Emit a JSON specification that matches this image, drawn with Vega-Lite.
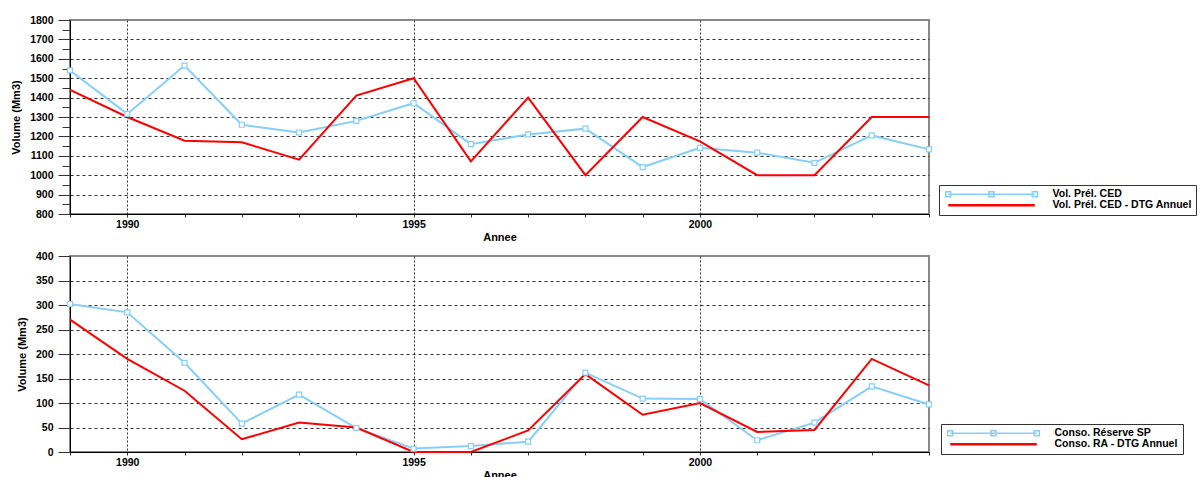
{
  "$schema": "https://vega.github.io/schema/vega-lite/v6.json",
  "padding": {"left": 9, "top": 14, "right": 0, "bottom": 0},
  "background": "white",
  "spacing": 6,
  "config": {
    "font": "Liberation Sans",
    "view": {"stroke": "#888", "strokeWidth": 2},
    "axis": {
      "labelFont": "Liberation Sans", "labelFontWeight": "bold", "labelFontSize": 10.5, "labelColor": "black",
      "titleFont": "Liberation Sans", "titleFontWeight": "bold", "titleFontSize": 11, "titleColor": "black",
      "domainColor": "black", "domainWidth": 1, "tickColor": "#333", "gridColor": "#333", "gridDash": [3, 3], "gridWidth": 1
    },
    "legend": {
      "orient": "none", "title": null, "strokeColor": "#333", "fillColor": "white", "padding": 4, "rowPadding": 0,
      "labelFont": "Liberation Sans", "labelFontWeight": "bold", "labelFontSize": 10.5, "labelColor": "black",
      "labelOffset": 99, "labelLimit": 300, "symbolSize": 52
    }
  },
  "resolve": {"scale": {"color": "independent"}},
  "datasets": {
    "top": [
      {"year": 1989, "series": "Vol. Prél. CED", "value": 1540},
      {"year": 1990, "series": "Vol. Prél. CED", "value": 1316},
      {"year": 1991, "series": "Vol. Prél. CED", "value": 1565},
      {"year": 1992, "series": "Vol. Prél. CED", "value": 1260},
      {"year": 1993, "series": "Vol. Prél. CED", "value": 1220},
      {"year": 1994, "series": "Vol. Prél. CED", "value": 1280},
      {"year": 1995, "series": "Vol. Prél. CED", "value": 1371},
      {"year": 1996, "series": "Vol. Prél. CED", "value": 1160},
      {"year": 1997, "series": "Vol. Prél. CED", "value": 1210},
      {"year": 1998, "series": "Vol. Prél. CED", "value": 1240},
      {"year": 1999, "series": "Vol. Prél. CED", "value": 1042},
      {"year": 2000, "series": "Vol. Prél. CED", "value": 1141},
      {"year": 2001, "series": "Vol. Prél. CED", "value": 1116},
      {"year": 2002, "series": "Vol. Prél. CED", "value": 1064},
      {"year": 2003, "series": "Vol. Prél. CED", "value": 1205},
      {"year": 2004, "series": "Vol. Prél. CED", "value": 1133},
      {"year": 1989, "series": "Vol. Prél. CED - DTG Annuel", "value": 1440},
      {"year": 1990, "series": "Vol. Prél. CED - DTG Annuel", "value": 1300},
      {"year": 1991, "series": "Vol. Prél. CED - DTG Annuel", "value": 1178},
      {"year": 1992, "series": "Vol. Prél. CED - DTG Annuel", "value": 1170},
      {"year": 1993, "series": "Vol. Prél. CED - DTG Annuel", "value": 1080},
      {"year": 1994, "series": "Vol. Prél. CED - DTG Annuel", "value": 1410},
      {"year": 1995, "series": "Vol. Prél. CED - DTG Annuel", "value": 1500},
      {"year": 1996, "series": "Vol. Prél. CED - DTG Annuel", "value": 1071},
      {"year": 1997, "series": "Vol. Prél. CED - DTG Annuel", "value": 1400},
      {"year": 1998, "series": "Vol. Prél. CED - DTG Annuel", "value": 1000},
      {"year": 1999, "series": "Vol. Prél. CED - DTG Annuel", "value": 1300},
      {"year": 2000, "series": "Vol. Prél. CED - DTG Annuel", "value": 1174},
      {"year": 2001, "series": "Vol. Prél. CED - DTG Annuel", "value": 1000},
      {"year": 2002, "series": "Vol. Prél. CED - DTG Annuel", "value": 1000},
      {"year": 2003, "series": "Vol. Prél. CED - DTG Annuel", "value": 1300},
      {"year": 2004, "series": "Vol. Prél. CED - DTG Annuel", "value": 1300}
    ],
    "bottom": [
      {"year": 1989, "series": "Conso. Réserve SP", "value": 302},
      {"year": 1990, "series": "Conso. Réserve SP", "value": 285},
      {"year": 1991, "series": "Conso. Réserve SP", "value": 182},
      {"year": 1992, "series": "Conso. Réserve SP", "value": 58},
      {"year": 1993, "series": "Conso. Réserve SP", "value": 117},
      {"year": 1994, "series": "Conso. Réserve SP", "value": 49},
      {"year": 1995, "series": "Conso. Réserve SP", "value": 7},
      {"year": 1996, "series": "Conso. Réserve SP", "value": 12},
      {"year": 1997, "series": "Conso. Réserve SP", "value": 21},
      {"year": 1998, "series": "Conso. Réserve SP", "value": 162},
      {"year": 1999, "series": "Conso. Réserve SP", "value": 109},
      {"year": 2000, "series": "Conso. Réserve SP", "value": 108},
      {"year": 2001, "series": "Conso. Réserve SP", "value": 24},
      {"year": 2002, "series": "Conso. Réserve SP", "value": 60},
      {"year": 2003, "series": "Conso. Réserve SP", "value": 134},
      {"year": 2004, "series": "Conso. Réserve SP", "value": 97},
      {"year": 1989, "series": "Conso. RA - DTG Annuel", "value": 270},
      {"year": 1990, "series": "Conso. RA - DTG Annuel", "value": 190},
      {"year": 1991, "series": "Conso. RA - DTG Annuel", "value": 125},
      {"year": 1992, "series": "Conso. RA - DTG Annuel", "value": 26},
      {"year": 1993, "series": "Conso. RA - DTG Annuel", "value": 60},
      {"year": 1994, "series": "Conso. RA - DTG Annuel", "value": 50},
      {"year": 1995, "series": "Conso. RA - DTG Annuel", "value": 0},
      {"year": 1996, "series": "Conso. RA - DTG Annuel", "value": 0},
      {"year": 1997, "series": "Conso. RA - DTG Annuel", "value": 44},
      {"year": 1998, "series": "Conso. RA - DTG Annuel", "value": 159},
      {"year": 1999, "series": "Conso. RA - DTG Annuel", "value": 76},
      {"year": 2000, "series": "Conso. RA - DTG Annuel", "value": 100},
      {"year": 2001, "series": "Conso. RA - DTG Annuel", "value": 41},
      {"year": 2002, "series": "Conso. RA - DTG Annuel", "value": 45},
      {"year": 2003, "series": "Conso. RA - DTG Annuel", "value": 190},
      {"year": 2004, "series": "Conso. RA - DTG Annuel", "value": 136}
    ]
  },
  "vconcat": [
    {
      "width": 859,
      "height": 194,
      "data": {"name": "top"},
      "encoding": {
        "x": {
          "field": "year", "type": "quantitative",
          "scale": {"domain": [1989, 2004], "nice": false, "zero": false},
          "axis": {
            "title": "Annee", "values": [1989, 1990, 1991, 1992, 1993, 1994, 1995, 1996, 1997, 1998, 1999, 2000, 2001, 2002, 2003, 2004],
            "format": "d", "labelExpr": "datum.value % 5 == 0 ? datum.label : ''",
            "tickSize": 3, "labelPadding": 2, "titlePadding": 2,
            "grid": true, "gridDash": [2, 2],
            "gridOpacity": {"condition": {"test": "datum.value % 5 != 0", "value": 0}, "value": 1}
          }
        },
        "y": {
          "field": "value", "type": "quantitative",
          "scale": {"domain": [800, 1800], "nice": false, "zero": false},
          "axis": {
            "title": "Volume (Mm3)",
            "values": [800, 850, 900, 950, 1000, 1050, 1100, 1150, 1200, 1250, 1300, 1350, 1400, 1450, 1500, 1550, 1600, 1650, 1700, 1750, 1800],
            "format": "d", "labelExpr": "datum.value % 100 == 0 ? datum.label : ''",
            "tickSize": {"condition": {"test": "datum.value % 100 != 0", "value": 8}, "value": 12},
            "labelPadding": 5, "titlePadding": 8,
            "grid": true,
            "gridOpacity": {"condition": {"test": "datum.value % 100 != 0 || datum.value == 800 || datum.value == 1800", "value": 0}, "value": 1}
          }
        }
      },
      "layer": [
        {
          "mark": {"type": "line", "strokeWidth": 2},
          "encoding": {
            "color": {
              "field": "series", "type": "nominal",
              "scale": {"domain": ["Vol. Prél. CED", "Vol. Prél. CED - DTG Annuel"], "range": ["#87CEFA", "#FF0000"]},
              "legend": {
                "legendX": 869, "legendY": 165,
                "encode": {
                  "symbols": {
                    "update": {
                      "shape": {"signal": "datum.index === 0 ? 'M0,0H24M-0.7,-0.7h1.4v1.4h-1.4zM11.3,-0.7h1.4v1.4h-1.4zM23.3,-0.7h1.4v1.4h-1.4z' : 'M0,0H24'"},
                      "fill": {"signal": "datum.index === 0 ? 'white' : 'transparent'"},
                      "strokeWidth": {"signal": "datum.index === 0 ? 1.5 : 2.5"}
                    }
                  }
                }
              }
            }
          }
        },
        {
          "transform": [{"filter": "datum.series == 'Vol. Prél. CED'"}],
          "mark": {"type": "point", "shape": "square", "filled": true, "fill": "white", "stroke": "#87CEFA", "strokeWidth": 1.2, "size": 25, "opacity": 1}
        }
      ]
    },
    {
      "width": 859,
      "height": 196,
      "data": {"name": "bottom"},
      "encoding": {
        "x": {
          "field": "year", "type": "quantitative",
          "scale": {"domain": [1989, 2004], "nice": false, "zero": false},
          "axis": {
            "title": "Annee", "values": [1989, 1990, 1991, 1992, 1993, 1994, 1995, 1996, 1997, 1998, 1999, 2000, 2001, 2002, 2003, 2004],
            "format": "d", "labelExpr": "datum.value % 5 == 0 ? datum.label : ''",
            "tickSize": 3, "labelPadding": 2, "titlePadding": 2,
            "grid": true, "gridDash": [2, 2],
            "gridOpacity": {"condition": {"test": "datum.value % 5 != 0", "value": 0}, "value": 1}
          }
        },
        "y": {
          "field": "value", "type": "quantitative",
          "scale": {"domain": [0, 400], "nice": false},
          "axis": {
            "title": "Volume (Mm3)",
            "values": [0, 50, 100, 150, 200, 250, 300, 350, 400],
            "format": "d", "tickSize": 12,
            "labelPadding": 5, "titlePadding": 8,
            "grid": true,
            "gridOpacity": {"condition": {"test": "datum.value == 0 || datum.value == 400", "value": 0}, "value": 1}
          }
        }
      },
      "layer": [
        {
          "mark": {"type": "line", "strokeWidth": 2},
          "encoding": {
            "color": {
              "field": "series", "type": "nominal",
              "scale": {"domain": ["Conso. Réserve SP", "Conso. RA - DTG Annuel"], "range": ["#87CEFA", "#FF0000"]},
              "legend": {
                "legendX": 871, "legendY": 168,
                "encode": {
                  "symbols": {
                    "update": {
                      "shape": {"signal": "datum.index === 0 ? 'M0,0H24M-0.7,-0.7h1.4v1.4h-1.4zM11.3,-0.7h1.4v1.4h-1.4zM23.3,-0.7h1.4v1.4h-1.4z' : 'M0,0H24'"},
                      "fill": {"signal": "datum.index === 0 ? 'white' : 'transparent'"},
                      "strokeWidth": {"signal": "datum.index === 0 ? 1.5 : 2.5"}
                    }
                  }
                }
              }
            }
          }
        },
        {
          "transform": [{"filter": "datum.series == 'Conso. Réserve SP'"}],
          "mark": {"type": "point", "shape": "square", "filled": true, "fill": "white", "stroke": "#87CEFA", "strokeWidth": 1.2, "size": 25, "opacity": 1}
        }
      ]
    }
  ]
}
